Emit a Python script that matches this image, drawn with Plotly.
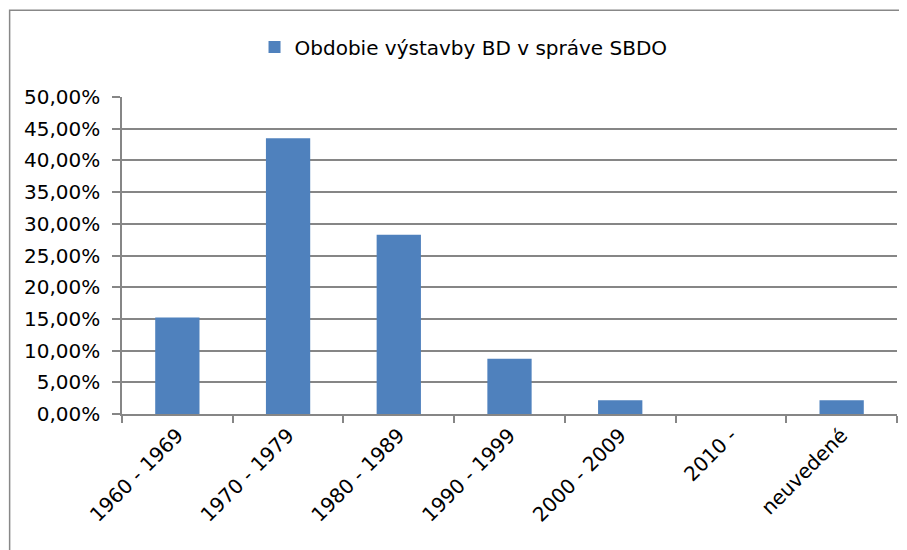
import plotly.graph_objs as go

# Obdobie výstavby bytových domov
obdobia = ['1960 - 1969', '1970 - 1979', '1980 - 1989', '1990 - 1999',
           '2000 - 2009', '2010 -', 'neuvedené']
podiel = [0.1522, 0.4348, 0.2826, 0.0870, 0.0217, 0.0, 0.0217]
nazov_serie = 'Obdobie výstavby BD v správe SBDO'

bar_chart = go.Bar(
    x=obdobia,
    y=podiel,
    name=nazov_serie,
    marker=dict(color='#4f81bd', line=dict(width=0)),
    showlegend=True,
)

layout = go.Layout(
    width=907,
    height=550,
    # stránka má okraj 8 px, preto sú okraje o 8 px menšie
    margin=dict(l=114, r=18, t=89, b=144),
    paper_bgcolor='white',
    plot_bgcolor='white',
    font=dict(family='DejaVu Sans', size=20, color='black'),
    separators=', ',
    bargap=0.6,
    showlegend=True,
    legend=dict(
        orientation='h',
        x=0.171, xanchor='left',
        y=1.158, yanchor='middle',
        font=dict(size=20),
        itemwidth=30,
    ),
    xaxis=dict(
        type='category',
        tickangle=-45,
        tickson='boundaries',
        ticks='outside',
        ticklen=7,
        tickwidth=1.5,
        tickcolor='#868686',
        showline=True,
        linecolor='#868686',
        linewidth=1.5,
        showgrid=False,
        automargin=False,
        tickfont=dict(size=20),
    ),
    yaxis=dict(
        range=[0, 0.5],
        dtick=0.05,
        tickformat='.2%',
        ticks='outside',
        ticklen=8,
        tickwidth=1.5,
        tickcolor='#868686',
        ticklabelstandoff=8,
        showline=True,
        linecolor='#868686',
        linewidth=1.5,
        gridcolor='#868686',
        gridwidth=1.5,
        zeroline=False,
        automargin=False,
        tickfont=dict(size=20),
    ),
    # ramček grafu
    shapes=[dict(
        type='rect', xref='paper', yref='paper',
        x0=-0.145, x1=1.2, y0=-0.6, y1=1.274,
        line=dict(color='#888888', width=1.5),
        fillcolor='rgba(0,0,0,0)',
        layer='below',
    )],
)

fig = go.Figure(data=[bar_chart], layout=layout)
fig.write_html("out.html")
